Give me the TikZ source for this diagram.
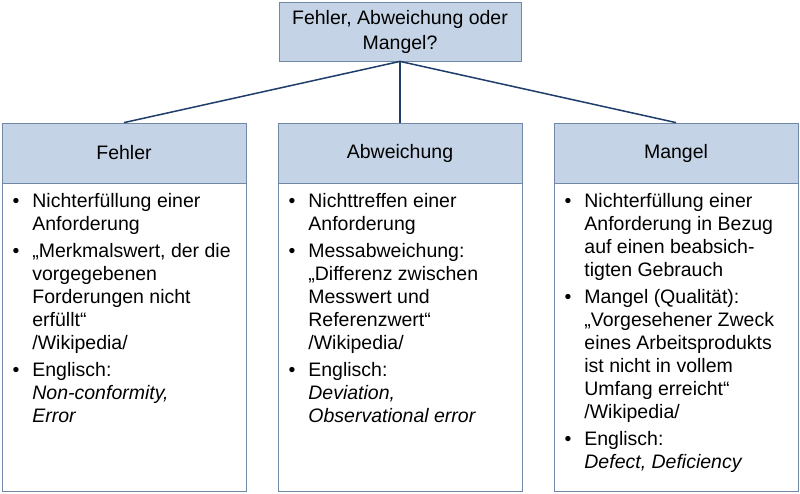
\documentclass[tikz,border=0pt]{standalone}
\usepackage{fontspec}
\setmainfont{Liberation Sans}
\definecolor{boxfill}{HTML}{C5D3E6}
\definecolor{boxline}{HTML}{7187A6}
\definecolor{linkline}{HTML}{1F3D6B}
\newcommand{\itm}{\llap{\textbullet\hspace{13pt}}}
\begin{document}
\begin{tikzpicture}[x=1pt,y=-1pt,thick,
	kopf/.style={draw=boxline,fill=boxfill,line width=0.8pt,minimum width=244pt,minimum height=60pt,inner sep=0pt,align=center,font=\fontsize{19.5}{25}\selectfont},
	rumpf/.style={draw=boxline,line width=0.8pt,minimum width=244pt,minimum height=308pt,inner sep=0pt},
	liste/.style={anchor=north west,align=left,inner sep=0pt,font=\fontsize{19.5}{23}\selectfont},
	link/.style={draw=linkline,line width=1.5pt}]
\useasboundingbox (0,0) rectangle (800,493);

\node[kopf,minimum width=242pt,minimum height=59pt] (frage) at (400,31.5) {Fehler, Abweichung oder\\Mangel?};

\node[kopf] (fehler) at (124,153) {Fehler};
\node[kopf] (abweichung) at (400,153) {Abweichung};
\node[kopf] (mangel) at (676,153) {Mangel};

\node[rumpf,anchor=north] (fehlerText) at (fehler.south) {};
\node[rumpf,anchor=north] (abweichungText) at (abweichung.south) {};
\node[rumpf,anchor=north] (mangelText) at (mangel.south) {};

\draw[link] (frage.south) -- (fehler.north);
\draw[link] (frage.south) -- (abweichung.north);
\draw[link] (frage.south) -- (mangel.north);

% Aufzaehlungen
\node[liste] (l1) at (32,193) {\itm Nichterfüllung einer\\Anforderung\\[4pt]
	\itm „Merkmalswert, der die\\vorgegebenen\\Forderungen nicht\\erfüllt“\\/Wikipedia/\\[4pt]
	\itm Englisch:\\\textit{Non-conformity,}\\\textit{Error}};
\node[liste] (l2) at (308,193) {\itm Nichttreffen einer\\Anforderung\\[4pt]
	\itm Messabweichung:\\„Differenz zwischen\\Messwert und\\Referenzwert“\\/Wikipedia/\\[4pt]
	\itm Englisch:\\\textit{Deviation,}\\\textit{Observational error}};
\node[liste] (l3) at (584,193) {\itm Nichterfüllung einer\\Anforderung in Bezug\\auf einen beabsich-\\tigten Gebrauch\\[4pt]
	\itm Mangel (Qualität):\\„Vorgesehener Zweck\\eines Arbeitsprodukts\\ist nicht in vollem\\Umfang erreicht“\\/Wikipedia/\\[4pt]
	\itm Englisch:\\\textit{Defect, Deficiency}};
\end{tikzpicture}
\end{document}
